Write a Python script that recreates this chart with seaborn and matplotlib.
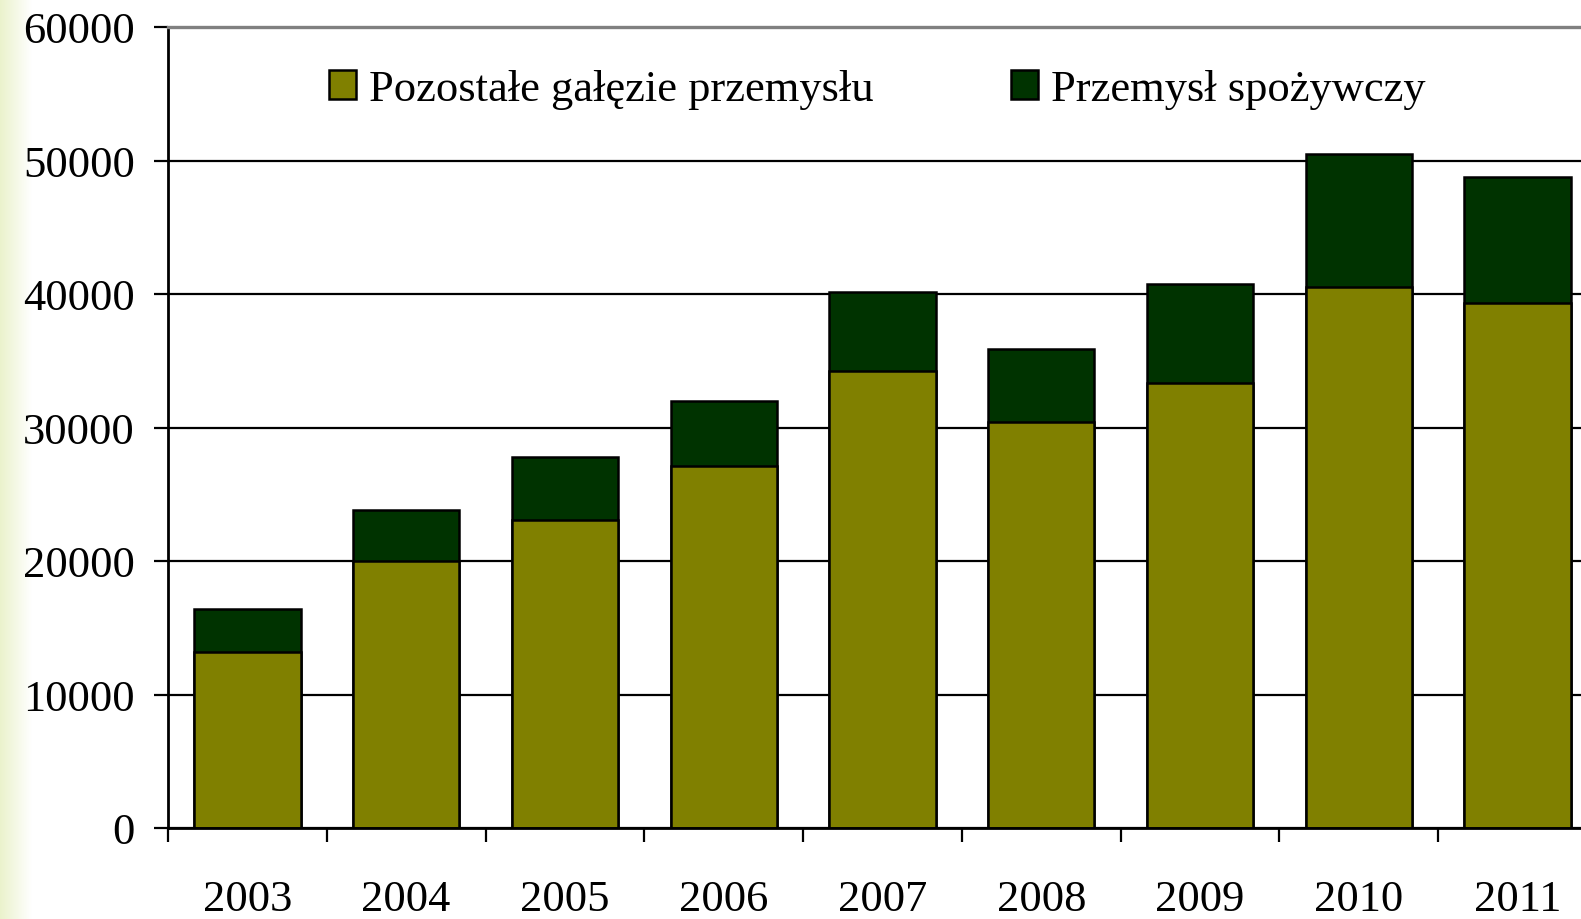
import numpy as np
import pandas as pd
import matplotlib
matplotlib.use('Agg')
import matplotlib.pyplot as plt
import seaborn as sns

# data
years = ['2003', '2004', '2005', '2006', '2007', '2008', '2009', '2010', '2011']
pozostale = [13200, 20000, 23100, 27100, 34200, 30400, 33300, 40500, 39300]
spozywczy = [3200, 3800, 4700, 4900, 5950, 5500, 7450, 10000, 9450]
labels = ['Pozostałe gałęzie przemysłu', 'Przemysł spożywczy']

df = pd.DataFrame({'year': years, 'poz': pozostale, 'spoz': spozywczy})
df['total'] = df['poz'] + df['spoz']

sns.set_style('white')
plt.rcParams['font.family'] = ['Liberation Serif', 'DejaVu Serif']
plt.rcParams['text.color'] = 'black'

fig = plt.figure(figsize=(15.81, 9.2), dpi=100)

# pale green strip on the left edge
strip = fig.add_axes([0, 0, 32 / 1581, 1])
grad = np.linspace(0, 1, 64)[None, :, None]
c0 = np.array([0.92, 0.95, 0.80])
c1 = np.array([1.0, 1.0, 1.0])
strip.imshow(c0 + (c1 - c0) * grad, aspect='auto', extent=[0, 1, 0, 1])
strip.axis('off')

ax = fig.add_axes([168 / 1581, 1 - 829 / 920, 1429 / 1581, (829 - 28) / 920])

sns.barplot(data=df, x='year', y='total', color='#003300', edgecolor='black',
            linewidth=1.8, width=0.67, saturation=1, ax=ax, label=labels[1])
sns.barplot(data=df, x='year', y='poz', color='#808000', edgecolor='black',
            linewidth=1.8, width=0.67, saturation=1, ax=ax, label=labels[0])

ax.set_xlim(-0.5, 8.5)
ax.set_ylim(0, 60000)
ax.set_yticks(np.arange(0, 60001, 10000))
ax.set_xlabel('')
ax.set_ylabel('')
ax.set_axisbelow(True)
ax.yaxis.grid(True, color='black', linewidth=1.6)
ax.xaxis.grid(False)

for s in ['left', 'bottom']:
    ax.spines[s].set_color('black')
    ax.spines[s].set_linewidth(2.0)
ax.spines['top'].set_color('#808080')
ax.spines['top'].set_linewidth(2.4)
ax.spines['right'].set_visible(False)

ax.tick_params(axis='y', left=True, direction='out', length=10, width=1.6,
               pad=14, labelsize=32, colors='black')
ax.tick_params(axis='x', which='major', length=0, pad=37, labelsize=32,
               colors='black')
ax.set_xticks(np.arange(-0.5, 8.5, 1), minor=True)
ax.tick_params(axis='x', which='minor', bottom=True, direction='out',
               length=10, width=1.6, color='black')

handles, labs = ax.get_legend_handles_labels()
if ax.get_legend() is not None:
    ax.get_legend().remove()
order = [labs.index(l) for l in labels]
fig.legend([handles[i] for i in order], labels, loc='center',
           bbox_to_anchor=(0.555, 0.902), ncol=2, frameon=False, fontsize=32,
           handlelength=0.6, handleheight=0.6, handletextpad=0.3,
           columnspacing=3.1)

fig.savefig('out.png', dpi=100)
